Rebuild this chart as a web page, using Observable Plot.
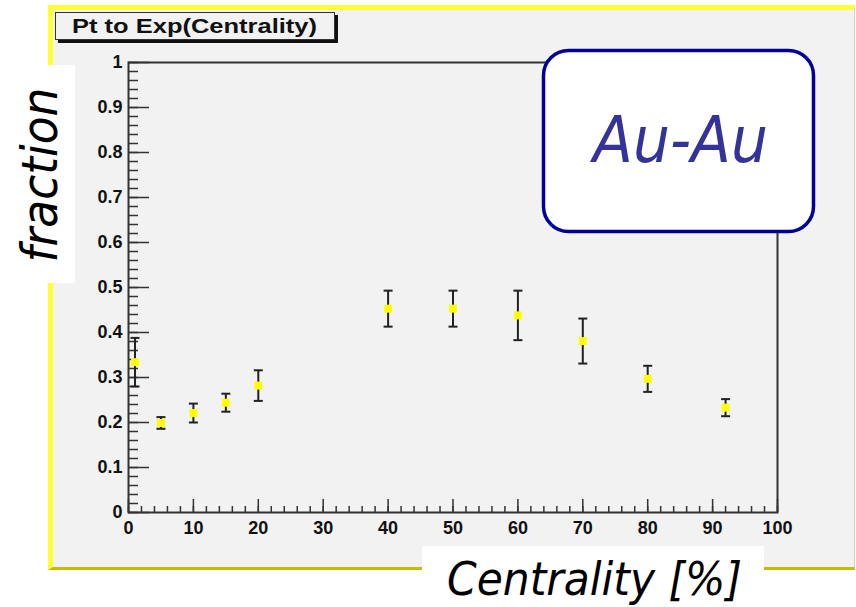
<!DOCTYPE html>
<html><head><meta charset="utf-8">
<script src="https://cdn.jsdelivr.net/npm/d3@7"></script>
<script src="https://cdn.jsdelivr.net/npm/@observablehq/plot@0.6"></script>
<style>
html,body{margin:0;padding:0;background:#fff;}
#wrap{position:relative;width:856px;height:607px;overflow:hidden;}
#panel{position:absolute;left:48px;top:5px;width:807px;height:565px;box-sizing:border-box;background:#f2f2f2;border-top:5px solid #ffff33;border-left:5px solid #ffff33;border-bottom:3px solid #bfbf00;border-right:1px solid #d6d6a8;}
#chart{position:absolute;left:0;top:0;}
#over{position:absolute;left:0;top:0;pointer-events:none;}
</style></head><body>
<div id="wrap">
  <div id="panel"></div>
  <div id="chart"></div>
  <svg id="over" width="856" height="607">
    <rect x="58" y="15" width="280" height="28" fill="#111"></rect>
    <rect x="55.5" y="12.5" width="279" height="27" fill="#f2f2f2" stroke="#333" stroke-width="1"></rect>
    <text x="72" y="33" textLength="245" lengthAdjust="spacingAndGlyphs" font-family="'Liberation Sans', Arial, sans-serif" font-weight="bold" font-size="21" fill="#111">Pt to Exp(Centrality)</text>

    <rect x="543.5" y="50.5" width="270" height="181" rx="25" ry="25" fill="#fff" stroke="#000099" stroke-width="3.5"></rect>
    <text x="593" y="162" textLength="175" lengthAdjust="spacingAndGlyphs" font-family="'DejaVu Sans', Verdana, sans-serif" font-style="italic" font-size="64" fill="#333399">Au-Au</text>

    <rect x="0" y="65" width="75" height="218" fill="#fff"></rect>
    <text transform="translate(57,175) rotate(-90)" text-anchor="middle" textLength="175" lengthAdjust="spacingAndGlyphs" font-family="'DejaVu Sans', Verdana, sans-serif" font-style="italic" font-size="50" fill="#000">fraction</text>

    <rect x="422" y="546" width="342" height="61" fill="#fff"></rect>
    <text x="447" y="595" textLength="295" lengthAdjust="spacingAndGlyphs" font-family="'DejaVu Sans', Verdana, sans-serif" font-style="italic" font-size="47" fill="#000">Centrality [%]</text>
  </svg>
</div>
<script>
// ---- data ----
const centrality   = [1, 5, 10, 15, 20, 40, 50, 60, 70, 80, 92];
const fractionVals = [0.334, 0.199, 0.221, 0.244, 0.282, 0.453, 0.453, 0.438, 0.381, 0.297, 0.233];
const fractionErr  = [0.054, 0.013, 0.021, 0.020, 0.034, 0.040, 0.040, 0.055, 0.050, 0.029, 0.019];
const xTicks = [0, 10, 20, 30, 40, 50, 60, 70, 80, 90, 100];
const yTicks = [0, 0.1, 0.2, 0.3, 0.4, 0.5, 0.6, 0.7, 0.8, 0.9, 1];

const data = centrality.map((c, i) => ({
  c, f: fractionVals[i], lo: fractionVals[i] - fractionErr[i], hi: fractionVals[i] + fractionErr[i]
}));
const xMinor = d3.range(0, 100.001, 2);
const yMinor = d3.range(0, 1.0001, 0.02);

const W = 856, H = 607, mL = 128, mR = 79, mT = 62, mB = 95;
const pw = W - mL - mR, ph = H - mT - mB;

const capSymbol = {draw(ctx, size) { const r = Math.sqrt(size / Math.PI); ctx.moveTo(-r, 0); ctx.lineTo(r, 0); }};

const chart = Plot.plot({
  width: W, height: H,
  marginLeft: mL, marginRight: mR, marginTop: mT, marginBottom: mB,
  x: {domain: [0, 100]},
  y: {domain: [0, 1]},
  style: {background: "transparent", fontFamily: "'Liberation Sans', Arial, sans-serif", fontSize: "18px", fontWeight: "bold", color: "#111"},
  marks: [
    Plot.tickY(yMinor, {y: d => d, insetRight: pw - 10, stroke: "#333", strokeWidth: 1.5}),
    Plot.tickY(yTicks, {y: d => d, insetRight: pw - 21, stroke: "#333", strokeWidth: 1.5}),
    Plot.tickX(xMinor, {x: d => d, insetTop: ph - 6, stroke: "#333", strokeWidth: 1.5}),
    Plot.tickX(xTicks, {x: d => d, insetTop: ph - 13, stroke: "#333", strokeWidth: 1.5}),
    Plot.axisX({ticks: xTicks, tickSize: 0, tickPadding: 9, tickFormat: d => String(d), label: null}),
    Plot.axisY({ticks: yTicks, tickSize: 0, tickPadding: 6, tickFormat: d => String(+d.toFixed(1)), label: null}),
    Plot.frame({stroke: "#333", strokeWidth: 2}),
    Plot.ruleX(data, {x: "c", y1: "lo", y2: "hi", stroke: "#222", strokeWidth: 2}),
    Plot.dot(data, {x: "c", y: "hi", symbol: capSymbol, r: 4.5, fill: "none", stroke: "#222", strokeWidth: 2}),
    Plot.dot(data, {x: "c", y: "lo", symbol: capSymbol, r: 4.5, fill: "none", stroke: "#222", strokeWidth: 2}),
    Plot.dot(data, {x: "c", y: "f", symbol: "square", r: 4.5, fill: "#ffff00", stroke: "none"})
  ]
});
document.getElementById("chart").appendChild(chart);
</script>
</body></html>
